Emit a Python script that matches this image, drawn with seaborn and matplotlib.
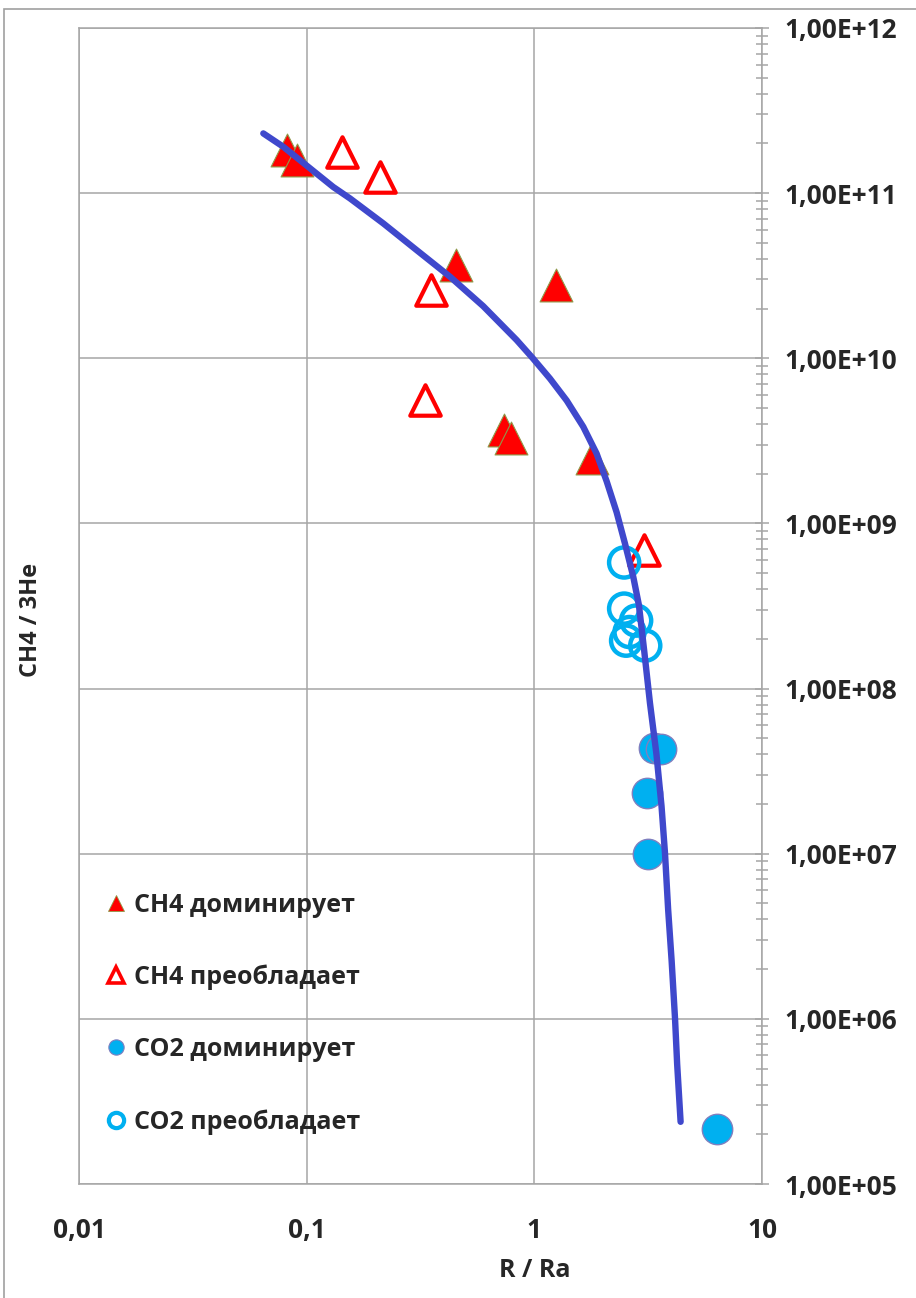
import numpy as np
import pandas as pd
import matplotlib
matplotlib.use("Agg")
import matplotlib.pyplot as plt
import seaborn as sns
from matplotlib.ticker import LogLocator, FuncFormatter, NullFormatter
from matplotlib.lines import Line2D
from matplotlib.patches import Rectangle

# ---- data ----
ch4_dom_x = [0.082, 0.091, 0.451, 1.24, 0.738, 0.792, 1.79]
ch4_dom_y = [1.82e11, 1.58e11, 3.66e10, 2.77e10, 3.66e9, 3.27e9, 2.48e9]

ch4_pre_x = [0.1425, 0.209, 0.35, 0.33, 3.03]
ch4_pre_y = [1.77e11, 1.25e11, 2.58e10, 5.56e9, 6.86e8]

co2_dom_x = [3.36, 3.60, 3.13, 3.16, 6.35]
co2_dom_y = [4.39e7, 4.30e7, 2.34e7, 1.0e7, 2.15e5]

co2_pre_x = [2.48, 2.48, 2.80, 2.62, 2.53, 3.07]
co2_pre_y = [5.8e8, 3.05e8, 2.58e8, 2.2e8, 1.95e8, 1.82e8]

curve_x = [0.0645, 0.0789, 0.0993, 0.1308, 0.155, 0.217, 0.304, 0.426, 0.596,
           0.836, 0.979, 1.171, 1.387, 1.640, 1.877, 2.078, 2.298, 2.50, 2.72,
           2.88, 3.04, 3.22, 3.44, 3.62, 3.75, 3.87, 4.01, 4.15, 4.24, 4.39]
curve_y = [2.30e11, 1.91e11, 1.48e11, 1.09e11, 9.29e10, 6.56e10, 4.52e10, 3.12e10,
           2.07e10, 1.29e10, 1.01e10, 7.54e9, 5.55e9, 3.85e9, 2.65e9, 1.80e9,
           1.17e9, 7.57e8, 4.75e8, 3.2e8, 1.68e8, 8.18e7, 3.98e7, 1.94e7, 1.0e7,
           4.60e6, 2.24e6, 1.0e6, 5.31e5, 2.38e5]

labels = ["CH4 доминирует", "CH4 преобладает", "CO2 доминирует", "CO2 преобладает"]
x_ticks = [0.01, 0.1, 1, 10]
x_tick_labels = ["0,01", "0,1", "1", "10"]
y_ticks = [1e5, 1e6, 1e7, 1e8, 1e9, 1e10, 1e11, 1e12]

# ---- styling ----
sns.set_style("white")
FONT = ["Open Sans", "DejaVu Sans"]
plt.rcParams["font.family"] = FONT
plt.rcParams["font.weight"] = "bold"

RED = "#FF0000"
CYAN = "#00B0F0"
BLUE = "#3F48CC"
GRID = "#A6A6A6"

fig = plt.figure(figsize=(9.16, 12.98), dpi=100)
ax = fig.add_axes([79 / 916, 1 - 1184 / 1298, (762 - 79) / 916, (1184 - 28) / 1298])

df_cd = pd.DataFrame({"x": ch4_dom_x, "y": ch4_dom_y})
df_cp = pd.DataFrame({"x": ch4_pre_x, "y": ch4_pre_y})
df_od = pd.DataFrame({"x": co2_dom_x, "y": co2_dom_y})
df_op = pd.DataFrame({"x": co2_pre_x, "y": co2_pre_y})
df_cv = pd.DataFrame({"x": curve_x, "y": curve_y})

sns.scatterplot(data=df_cd, x="x", y="y", ax=ax, marker="^", s=560, color=RED,
                edgecolor="#8E9A4A", linewidth=0.8, zorder=3, legend=False)
sns.scatterplot(data=df_cp, x="x", y="y", ax=ax, marker="^", s=480, facecolor="white",
                edgecolor=RED, linewidth=3, zorder=3, legend=False)
sns.scatterplot(data=df_op, x="x", y="y", ax=ax, marker="o", s=470, facecolor="none",
                edgecolor=CYAN, linewidth=3.2, zorder=3, legend=False)
sns.scatterplot(data=df_od, x="x", y="y", ax=ax, marker="o", s=480, color=CYAN,
                edgecolor="#7F7FBF", linewidth=1, zorder=3, legend=False)
sns.lineplot(data=df_cv, x="x", y="y", ax=ax, sort=False, color=BLUE, linewidth=4.6,
             zorder=4, legend=False, solid_capstyle="round", solid_joinstyle="round")

ax.set_xscale("log")
ax.set_yscale("log")
ax.set_xlim(0.01, 10)
ax.set_ylim(1e5, 1e12)

ax.set_xticks(x_ticks)
ax.set_xticklabels(x_tick_labels)
ax.xaxis.set_minor_locator(LogLocator(base=10, subs=np.arange(2, 10)))
ax.xaxis.set_minor_formatter(NullFormatter())

ax.yaxis.tick_right()
ax.yaxis.set_label_position("left")
ax.set_yticks(y_ticks)
ax.yaxis.set_major_formatter(FuncFormatter(lambda v, p: "1,00E+%02d" % int(round(np.log10(v)))))
ax.yaxis.set_minor_locator(LogLocator(base=10, subs=np.arange(2, 10)))
ax.yaxis.set_minor_formatter(NullFormatter())

ax.grid(True, which="major", color=GRID, linewidth=1.1)
for sp in ax.spines.values():
    sp.set_color(GRID)
    sp.set_linewidth(1.1)

ax.tick_params(axis="both", which="both", direction="inout", color=GRID, width=1.1)
ax.tick_params(axis="both", which="major", length=10)
ax.tick_params(axis="both", which="minor", length=9)
ax.tick_params(axis="x", which="major", pad=19, labelsize=19)
ax.tick_params(axis="y", which="major", pad=11, labelsize=19, right=True, left=False)
for t in ax.get_xticklabels() + ax.get_yticklabels():
    t.set_fontweight("bold")

ax.set_xlabel("R / Ra", fontsize=18, fontweight="bold")
ax.xaxis.set_label_coords((535 - 79) / 683, -0.064)
ax.set_ylabel("CH4 / 3He", fontsize=17, fontweight="bold")
ax.yaxis.set_label_coords(-0.052, (1184 - 620) / 1156)

handles = [
    Line2D([], [], linestyle="none", marker="^", markersize=12, markerfacecolor=RED,
           markeredgecolor="#8E9A4A", markeredgewidth=0.6),
    Line2D([], [], linestyle="none", marker="^", markersize=11, markerfacecolor="white",
           markeredgecolor=RED, markeredgewidth=2.6),
    Line2D([], [], linestyle="none", marker="o", markersize=11, markerfacecolor=CYAN,
           markeredgecolor="#7F7FBF", markeredgewidth=0.8),
    Line2D([], [], linestyle="none", marker="o", markersize=11, markerfacecolor="white",
           markeredgecolor=CYAN, markeredgewidth=3),
]
leg = ax.legend(handles, labels, loc="upper left", bbox_to_anchor=(0.04, 0.252),
                frameon=False, fontsize=18, labelspacing=1.88, handlelength=0.8,
                handletextpad=0.3, borderaxespad=0, borderpad=0)
for t in leg.get_texts():
    t.set_fontweight("bold")

fig.add_artist(Rectangle((4 / 916, -0.02), 1.2, (1298 - 9) / 1298 + 0.02,
                         transform=fig.transFigure, fill=False, edgecolor="#A0A0A0",
                         linewidth=1.2))

fig.savefig("out.png", dpi=100)
